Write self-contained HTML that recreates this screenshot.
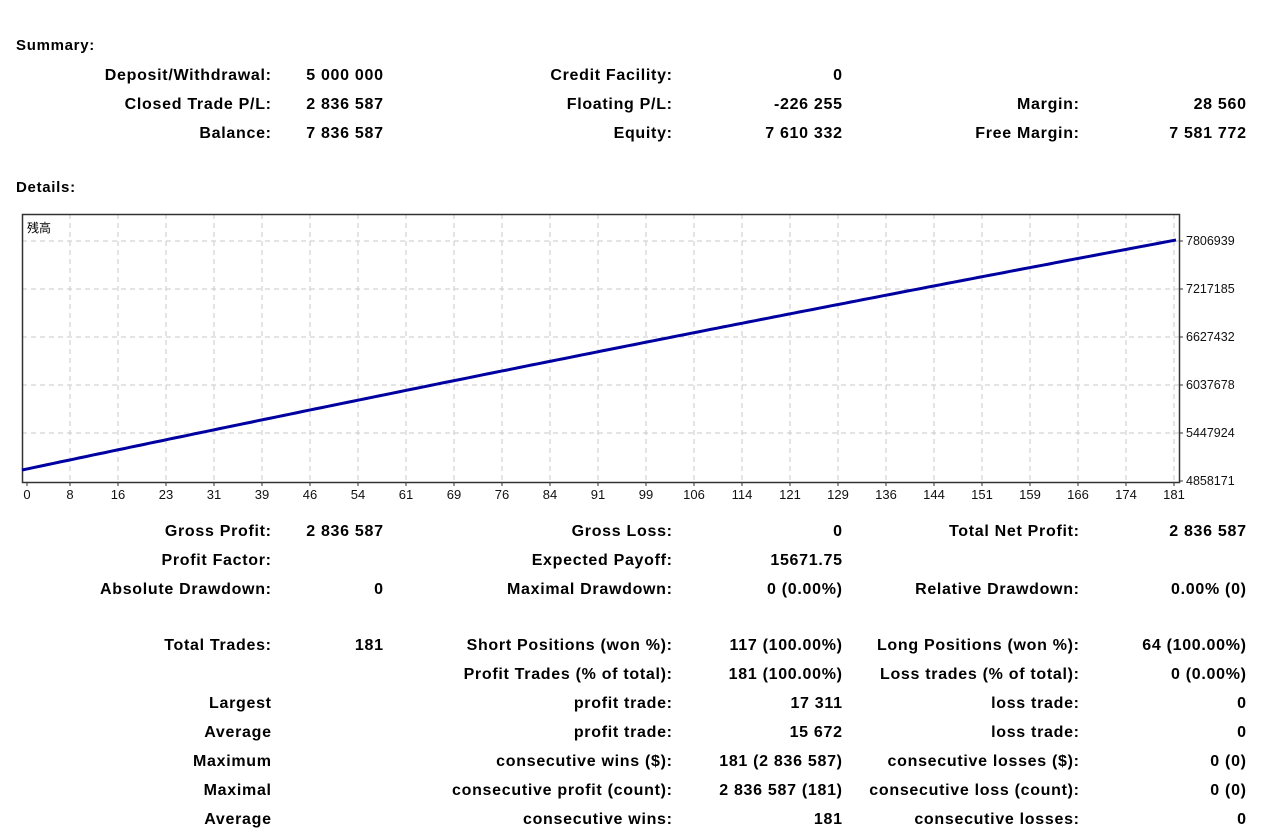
<!DOCTYPE html>
<html><head><meta charset="utf-8"><style>
body{margin:0;width:1264px;height:832px;background:#fff;position:relative;overflow:hidden;font-family:"Liberation Sans","DejaVu Sans",sans-serif;font-weight:bold;font-size:16px;letter-spacing:0.7px;color:#000}
.t{position:absolute;white-space:nowrap;line-height:18px}
.r{text-align:right}
</style></head><body>
<div class="t" style="left:16px;top:37px;font-size:15px">Summary:</div>
<div class="t" style="left:16px;top:179px;font-size:15px">Details:</div>
<div id="txt"></div>
<svg id="ch" width="1264" height="832" style="position:absolute;left:0;top:0;letter-spacing:0"></svg>
<script>
const rows=[
[75,"Deposit/Withdrawal:","5 000 000","Credit Facility:","0","",""],
[104,"Closed Trade P/L:","2 836 587","Floating P/L:","-226 255","Margin:","28 560"],
[133,"Balance:","7 836 587","Equity:","7 610 332","Free Margin:","7 581 772"],
[531,"Gross Profit:","2 836 587","Gross Loss:","0","Total Net Profit:","2 836 587"],
[560,"Profit Factor:","","Expected Payoff:","15671.75","",""],
[589,"Absolute Drawdown:","0","Maximal Drawdown:","0 (0.00%)","Relative Drawdown:","0.00% (0)"],
[645,"Total Trades:","181","Short Positions (won %):","117 (100.00%)","Long Positions (won %):","64 (100.00%)"],
[674,"","","Profit Trades (% of total):","181 (100.00%)","Loss trades (% of total):","0 (0.00%)"],
[703,"Largest","","profit trade:","17 311","loss trade:","0"],
[732,"Average","","profit trade:","15 672","loss trade:","0"],
[761,"Maximum","","consecutive wins ($):","181 (2 836 587)","consecutive losses ($):","0 (0)"],
[790,"Maximal","","consecutive profit (count):","2 836 587 (181)","consecutive loss (count):","0 (0)"],
[819,"Average","","consecutive wins:","181","consecutive losses:","0"]];
const rx=[271,383,672,842,1079,1246];
let h="";
for(const r of rows){for(let i=0;i<6;i++){if(r[i+1])h+=`<div class="t r" style="right:${1264-rx[i]-0.7}px;top:${r[0]-8}px">${r[i+1]}</div>`;}}
document.getElementById("txt").innerHTML=h;
let s="";
const L=22,R=1179,T=214,B=482;
for(let k=1;k<=24;k++){const x=L+48*k;s+=`<line x1="${x}" y1="${T}" x2="${x}" y2="${B}" stroke="#c8c8c8" stroke-dasharray="5,4"/>`;}
const ys=[241,289,337,385,433];
for(const y of ys)s+=`<line x1="${L}" y1="${y}" x2="${R}" y2="${y}" stroke="#c8c8c8" stroke-dasharray="5,4"/>`;
s+=`<rect x="${L}.5" y="${T}.5" width="${R-L}" height="${B-T}" fill="none" stroke="#333" stroke-width="1.5"/>`;
const xl=["0","8","16","23","31","39","46","54","61","69","76","84","91","99","106","114","121","129","136","144","151","159","166","174","181"];
for(let k=0;k<25;k++){const x=k==0?27:L+48*k;s+=`<line x1="${x}" y1="${B}" x2="${x}" y2="${B+4}" stroke="#333"/><text x="${x}" y="${B+17}" font-size="13" font-weight="normal" text-anchor="middle" font-family="Liberation Sans,sans-serif" fill="#111">${xl[k]}</text>`;}
const yl=["7806939","7217185","6627432","6037678","5447924","4858171"];
[241,289,337,385,433,481].forEach((y,i)=>{s+=`<line x1="${R}" y1="${y}" x2="${R+4}" y2="${y}" stroke="#333"/><text x="${R+7}" y="${y+4}" font-size="12.5" font-weight="normal" font-family="Liberation Sans,sans-serif" fill="#111">${yl[i]}</text>`;});
s+=`<text x="27" y="232" font-size="12" font-weight="normal" font-family="Liberation Sans,Noto Sans CJK JP,sans-serif">残高</text>`;
let p="";const n=181;
for(let i=0;i<=n;i++){const x=L+i*(1176-L)/n;const f=i/n;const y=470-(470-240)*(f+0.06*f*(1-f));p+=`${x.toFixed(1)},${y.toFixed(1)} `;}
s+=`<polyline points="${p}" fill="none" stroke="#0000a0" stroke-width="3"/>`;
document.getElementById("ch").innerHTML=s;
</script>
</body></html>
